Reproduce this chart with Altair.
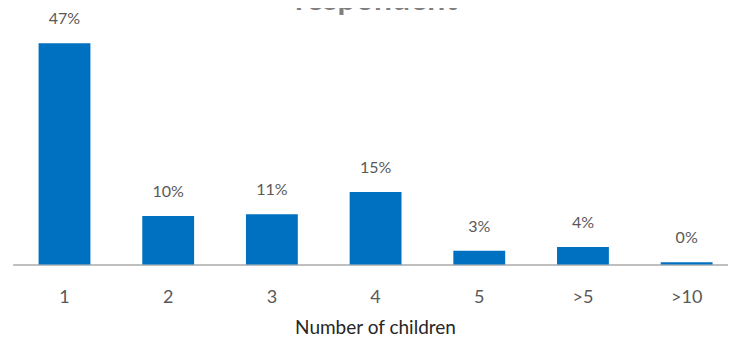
import altair as alt
import pandas as pd

categories = ["1", "2", "3", "4", "5", ">5", ">10"]
shares = [47.1, 10.3, 10.7, 15.4, 2.9, 3.7, 0.5]
labels = ["47%", "10%", "11%", "15%", "3%", "4%", "0%"]
title_text = "respondent"
x_title = "Number of children"

df = pd.DataFrame({"cat": categories, "share": shares, "label": labels})

x = alt.X(
    "cat:N",
    sort=categories,
    scale=alt.Scale(paddingInner=0.5, paddingOuter=0.25, range=[2.65, 728.5]),
    axis=alt.Axis(
        title=x_title, labelAngle=0, ticks=False,
        domainColor="#bfbfbf", domainWidth=2,
        labelFont="Lato", labelFontSize=18, labelColor="#595959", labelPadding=24,
        titleFont="Lato", titleFontSize=19, titleColor="#262626",
        titleFontWeight="normal", titlePadding=12, titleX=365,
    ),
)
y = alt.Y("share:Q", scale=alt.Scale(domain=[0, 50]), axis=None)

bars = alt.Chart(df).mark_bar(color="#0070C0").encode(x=x, y=y)
text = alt.Chart(df).mark_text(
    font="Lato", fontSize=16, color="#595959", dy=-24, baseline="middle"
).encode(x=x, y=y, text="label:N")
title = alt.Chart(pd.DataFrame({"t": [title_text]})).mark_text(
    font="Lato", fontSize=32, fontWeight="bold", color="#7f7f7f",
    baseline="alphabetic", align="center"
).encode(x=alt.value(366), y=alt.value(-20), text="t:N")

chart = alt.layer(bars, text, title).properties(
    width=718, height=235,
    background="white",
    autosize=alt.AutoSizeParams(type="none"),
    padding={"left": 2, "right": 0, "top": 21.5, "bottom": 74},
).configure_view(strokeWidth=0, stroke="transparent")

chart.save("out.html", embed_options={"renderer": "svg", "actions": False})
